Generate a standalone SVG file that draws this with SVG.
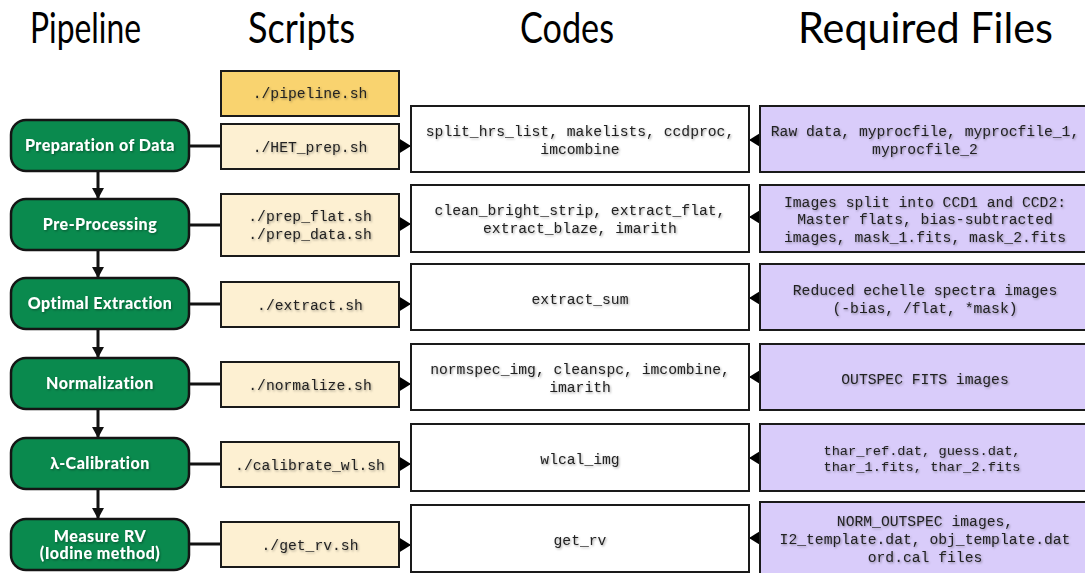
<svg xmlns="http://www.w3.org/2000/svg" width="1085" height="573" viewBox="0 0 1085 573">
  <defs>
    <style>
      .hdr { font-family: Lato, "Open Sans", sans-serif; font-size: 42px; fill: #000; }
      .stage rect { fill: #0a8a4e; stroke: #151515; stroke-width: 2.5; }
      .stage text { font-family: Lato, "Noto Sans", sans-serif; font-weight: 900; font-size: 16px; letter-spacing: 0.5px; fill: #fff; text-anchor: middle; filter: url(#shadow); }
      .script rect { fill: #fdf0d2; stroke: #1a1a1a; stroke-width: 2; }
      .script.main rect { fill: #f9d36f; }
      .code rect { fill: #fff; stroke: #1a1a1a; stroke-width: 2; }
      .files rect { fill: #d9ccfa; stroke: #1a1a1a; stroke-width: 2; }
      .mono { font-family: "Liberation Mono", "Courier New", monospace; font-size: 14.7px; fill: #222; text-anchor: middle; filter: url(#shadow); }
      .small { font-size: 13.7px; }
      .link { stroke: #111; stroke-width: 3; fill: none; }
      .tip { stroke: #111; stroke-width: 1; fill: none; }
    </style>
    <filter id="shadow" x="-10%" y="-40%" width="120%" height="180%">
      <feDropShadow dx="1" dy="1.2" stdDeviation="0.9" flood-color="#000" flood-opacity="0.35"/>
    </filter>
    <marker id="down" markerUnits="userSpaceOnUse" markerWidth="12" markerHeight="13" refX="11" refY="6" orient="auto">
      <path d="M0,0 L11,6 L0,12 z" fill="#111"/>
    </marker>
    <marker id="tri" markerUnits="userSpaceOnUse" markerWidth="13" markerHeight="16" refX="12" refY="8" orient="auto">
      <path d="M0,0.5 L12,8 L0,15.5 z" fill="#000"/>
    </marker>
  </defs>

  <!-- column headings -->
  <text class="hdr" x="30" y="43" textLength="111" lengthAdjust="spacingAndGlyphs">Pipeline</text>
  <text class="hdr" x="248" y="43" textLength="107" lengthAdjust="spacingAndGlyphs">Scripts</text>
  <text class="hdr" x="520" y="43" textLength="94" lengthAdjust="spacingAndGlyphs">Codes</text>
  <text class="hdr" x="798" y="43" textLength="255" lengthAdjust="spacingAndGlyphs">Required Files</text>

  <!-- connectors -->
  <g id="connectors">
    <!-- stage to stage -->
    <line class="link" x1="98" y1="171" x2="98" y2="199" marker-end="url(#down)"/>
    <line class="link" x1="98" y1="250" x2="98" y2="278" marker-end="url(#down)"/>
    <line class="link" x1="98" y1="329" x2="98" y2="358" marker-end="url(#down)"/>
    <line class="link" x1="98" y1="409" x2="98" y2="438" marker-end="url(#down)"/>
    <line class="link" x1="98" y1="489" x2="98" y2="519" marker-end="url(#down)"/>
    <!-- stage to script -->
    <line class="link" x1="189" y1="146" x2="221" y2="146"/>
    <line class="link" x1="189" y1="225" x2="221" y2="225"/>
    <line class="link" x1="189" y1="304" x2="221" y2="304"/>
    <line class="link" x1="189" y1="384" x2="221" y2="384"/>
    <line class="link" x1="189" y1="464" x2="221" y2="464"/>
    <line class="link" x1="189" y1="544" x2="221" y2="544"/>
    <!-- script to code -->
    <line class="tip" x1="399" y1="146" x2="411" y2="146" marker-end="url(#tri)"/>
    <line class="tip" x1="399" y1="224" x2="411" y2="224" marker-end="url(#tri)"/>
    <line class="tip" x1="399" y1="304" x2="411" y2="304" marker-end="url(#tri)"/>
    <line class="tip" x1="399" y1="384" x2="411" y2="384" marker-end="url(#tri)"/>
    <line class="tip" x1="399" y1="464" x2="411" y2="464" marker-end="url(#tri)"/>
    <line class="tip" x1="399" y1="545" x2="411" y2="545" marker-end="url(#tri)"/>
    <!-- files to code -->
    <line class="tip" x1="761" y1="140" x2="749" y2="140" marker-end="url(#tri)"/>
    <line class="tip" x1="761" y1="217" x2="749" y2="217" marker-end="url(#tri)"/>
    <line class="tip" x1="761" y1="298" x2="749" y2="298" marker-end="url(#tri)"/>
    <line class="tip" x1="761" y1="377" x2="749" y2="377" marker-end="url(#tri)"/>
    <line class="tip" x1="761" y1="458" x2="749" y2="458" marker-end="url(#tri)"/>
    <line class="tip" x1="761" y1="538" x2="749" y2="538" marker-end="url(#tri)"/>
  </g>

  <!-- pipeline stages -->
  <g id="stage-prep" class="stage"><rect x="11" y="120" width="178" height="51" rx="15"/><text x="100" y="151">Preparation of Data</text></g>
  <g id="stage-preproc" class="stage"><rect x="11" y="199" width="178" height="51" rx="15"/><text x="100" y="230">Pre-Processing</text></g>
  <g id="stage-extract" class="stage"><rect x="11" y="278" width="178" height="51" rx="15"/><text x="100" y="309">Optimal Extraction</text></g>
  <g id="stage-norm" class="stage"><rect x="11" y="358" width="178" height="51" rx="15"/><text x="100" y="389">Normalization</text></g>
  <g id="stage-wlcal" class="stage"><rect x="11" y="438" width="178" height="51" rx="15"/><text x="100" y="469">λ-Calibration</text></g>
  <g id="stage-rv" class="stage"><rect x="11" y="519" width="178" height="51" rx="15"/><text x="100" y="542">Measure RV</text><text x="100" y="559">(Iodine method)</text></g>

  <!-- scripts -->
  <g id="script-pipeline" class="script main"><rect x="221" y="71" width="178" height="45"/><text class="mono" x="310" y="98">./pipeline.sh</text></g>
  <g id="script-het" class="script"><rect x="221" y="124" width="178" height="45"/><text class="mono" x="310" y="152">./HET_prep.sh</text></g>
  <g id="script-prep" class="script"><rect x="221" y="194" width="178" height="62"/><text class="mono" x="310" y="221">./prep_flat.sh</text><text class="mono" x="310" y="239">./prep_data.sh</text></g>
  <g id="script-extract" class="script"><rect x="221" y="282" width="178" height="45"/><text class="mono" x="310" y="310">./extract.sh</text></g>
  <g id="script-normalize" class="script"><rect x="221" y="362" width="178" height="45"/><text class="mono" x="310" y="390">./normalize.sh</text></g>
  <g id="script-calibrate" class="script"><rect x="221" y="442" width="178" height="45"/><text class="mono" x="310" y="470">./calibrate_wl.sh</text></g>
  <g id="script-getrv" class="script"><rect x="221" y="522" width="178" height="45"/><text class="mono" x="310" y="550">./get_rv.sh</text></g>

  <!-- codes -->
  <g id="code-prep" class="code"><rect x="411" y="106" width="338" height="66"/><text class="mono" x="580" y="136">split_hrs_list, makelists, ccdproc,</text><text class="mono" x="580" y="154">imcombine</text></g>
  <g id="code-preproc" class="code"><rect x="411" y="185" width="338" height="67"/><text class="mono" x="580" y="215">clean_bright_strip, extract_flat,</text><text class="mono" x="580" y="233">extract_blaze, imarith</text></g>
  <g id="code-extract" class="code"><rect x="411" y="264" width="338" height="66"/><text class="mono" x="580" y="304">extract_sum</text></g>
  <g id="code-norm" class="code"><rect x="411" y="344" width="338" height="66"/><text class="mono" x="580" y="374">normspec_img, cleanspc, imcombine,</text><text class="mono" x="580" y="392">imarith</text></g>
  <g id="code-wlcal" class="code"><rect x="411" y="424" width="338" height="67"/><text class="mono" x="580" y="464">wlcal_img</text></g>
  <g id="code-rv" class="code"><rect x="411" y="505" width="338" height="67"/><text class="mono" x="580" y="545">get_rv</text></g>

  <!-- required files -->
  <g id="files-prep" class="files"><rect x="760" y="106" width="330" height="66"/><text class="mono" x="925" y="136">Raw data, myprocfile, myprocfile_1,</text><text class="mono" x="925" y="154">myprocfile_2</text></g>
  <g id="files-preproc" class="files"><rect x="760" y="185" width="330" height="67"/><text class="mono" x="925" y="206.5">Images split into CCD1 and CCD2:</text><text class="mono" x="925" y="224">Master flats, bias-subtracted</text><text class="mono" x="925" y="241.5">images, mask_1.fits, mask_2.fits</text></g>
  <g id="files-extract" class="files"><rect x="760" y="264" width="330" height="66"/><text class="mono" x="925" y="294.5">Reduced echelle spectra images</text><text class="mono" x="925" y="312.5">(-bias, /flat, *mask)</text></g>
  <g id="files-norm" class="files"><rect x="760" y="344" width="330" height="66"/><text class="mono" x="925" y="383.5">OUTSPEC FITS images</text></g>
  <g id="files-wlcal" class="files"><rect x="760" y="424" width="330" height="67"/><text class="mono small" x="922" y="455">thar_ref.dat, guess.dat,</text><text class="mono small" x="922" y="471">thar_1.fits, thar_2.fits</text></g>
  <g id="files-rv" class="files"><rect x="760" y="502" width="330" height="76"/><text class="mono" x="925" y="526">NORM_OUTSPEC images,</text><text class="mono" x="925" y="544">I2_template.dat, obj_template.dat</text><text class="mono" x="925" y="562">ord.cal files</text></g>
</svg>
